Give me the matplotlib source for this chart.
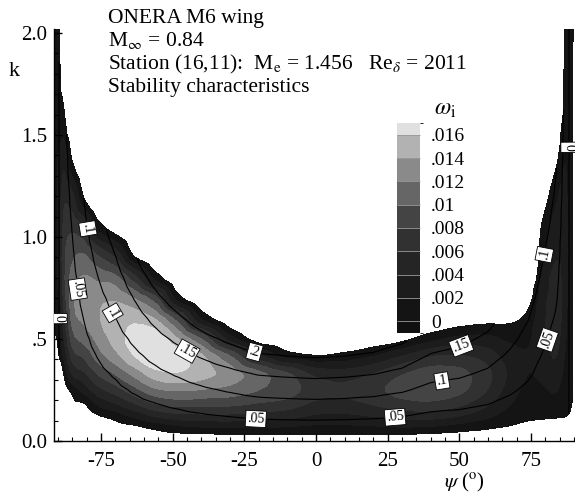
import numpy as np
import matplotlib
matplotlib.use("Agg")
import matplotlib.pyplot as plt
import matplotlib.tri as mtri
from matplotlib.colors import ListedColormap, BoundaryNorm
from matplotlib.ticker import MultipleLocator

plt.rcParams['font.family'] = ['Liberation Serif', 'DejaVu Serif']
plt.rcParams['mathtext.fontset'] = 'stix'

# grid: wave angle psi (deg) and wave number k
psi = [-93, -90, -88, -85, -81, -76, -70, -63, -56, -48, -40, -30, -20, -10,
       0, 10, 20, 30, 40, 50, 60, 68, 74, 79, 84, 87, 89, 92]
k = [0.0, 0.03, 0.07, 0.12, 0.18, 0.25, 0.33, 0.42, 0.5, 0.6, 0.7, 0.8,
     0.92, 1.05, 1.2, 1.4, 1.6, 1.8, 2.0, 2.1]

# growth rate omega_i (x 1e-3), one list per psi going up in k (negative = stable)
wi_by_psi = [
    [-4, -4, -4, -4, -4, -4, -4, -2.5, -0.6, -0.5, -0.4, -0.3, -0.2, -0.2, -0.2, -0.2, -0.2, -0.2, -0.2, -0.2],
    [-4, -4, -4, -4, -4, -4, -3, -0.3, 0.3, 1.3, 1.85, 2.3, 2.5, 2.4, 2.3, 2.0, 1.6, 1.1, 0.6, 0.35],
    [-4, -4, -4, -4, -3.6, -1.5, 0.2, 2.5, 3.9, 5.4, 6.6, 7.35, 7.35, 6.6, 5.4, 3.15, 0.3, -2, -4, -4],
    [-4, -4, -4, -2.7, -0.9, 0.8, 4.3, 7.0, 9.0, 10.8, 11.5, 10.8, 9.4, 7.4, 4.4, -0.6, -4, -4, -4, -4],
    [-4, -4, -3.3, -1.8, -0.2, 2.8, 5.7, 8.4, 10.6, 12.4, 13.0, 12.2, 9.9, 5.9, -0.2, -4, -4, -4, -4, -4],
    [-4, -3.3, -2.1, -0.3, 2.3, 5.3, 8.2, 11.1, 12.6, 13.8, 13.5, 11.5, 7.5, 1.1, -3.9, -4, -4, -4, -4, -4],
    [-3.2, -2.2, -1.0, 0.8, 3.8, 7.0, 10.2, 13.4, 14.8, 15.3, 13.6, 10.6, 5.0, -1.5, -4, -4, -4, -4, -4, -4],
    [-2.4, -1.5, -0.3, 2.4, 5.9, 9.4, 12.8, 16.2, 17.0, 15.4, 11.8, 6.5, -0.9, -4, -4, -4, -4, -4, -4, -4],
    [-1.8, -0.9, 0.7, 4.1, 7.9, 11.6, 15.2, 18.0, 17.4, 13.8, 8.6, 1.3, -3.2, -4, -4, -4, -4, -4, -4, -4],
    [-1.35, -0.45, 1.7, 5.1, 8.7, 12.2, 15.8, 17.0, 14.0, 8.8, 0.9, -2.7, -4, -4, -4, -4, -4, -4, -4, -4],
    [-1.2, -0.3, 2.1, 5.3, 8.5, 11.9, 14.8, 14.2, 10.0, 1.9, -2.4, -4, -4, -4, -4, -4, -4, -4, -4, -4],
    [-1.05, -0.15, 2.3, 5.3, 8.4, 11.2, 13.0, 9.8, 3.1, -2.1] + [-4] * 10,
    [-1.05, -0.15, 2.2, 4.9, 7.7, 10.0, 10.6, 4.3, -1.2] + [-4] * 11,
    [-1.05, -0.15, 2.0, 4.6, 7.0, 9.0, 8.2, 1.0, -2.1] + [-4] * 11,
    [-1.05, -0.15, 1.6, 3.6, 5.5, 6.9, 5.4, 0.0, -2.4] + [-4] * 11,
    [-1.05, -0.15, 1.6, 3.5, 5.3, 6.4, 4.9, 0.6, -2.1] + [-4] * 11,
    [-1.05, -0.15, 1.8, 4.0, 6.1, 7.4, 6.0, 1.8, -1.5] + [-4] * 11,
    [-1.05, -0.15, 2.1, 4.6, 7.1, 8.8, 7.8, 3.8, -0.6, -3.6] + [-4] * 10,
    [-1.2, -0.3, 1.9, 4.7, 7.4, 9.5, 9.0, 5.7, 1.3, -2.4] + [-4] * 10,
    [-1.5, -0.6, 1.2, 3.9, 6.4, 8.5, 8.6, 6.0, 2.6, -1.5] + [-4] * 10,
    [-1.8, -0.9, 0.4, 2.3, 4.2, 5.9, 6.4, 4.9, 2.6, -0.9, -3.9] + [-4] * 9,
    [-2.25, -1.35, -0.15, 0.95, 2.0, 2.9, 3.5, 2.8, 1.6, -0.6, -3.6] + [-4] * 9,
    [-2.7, -1.8, -0.6, 0.34, 0.9, 1.5, 2.0, 2.15, 1.7, 0.75, -1.2] + [-4] * 9,
    [-3, -2.1, -0.9, 0.25, 0.95, 1.7, 2.4, 3.0, 3.4, 3.4, 3.0, 2.5, 1.5, 0.3, -1.5, -4, -4, -4, -4, -4],
    [-3.3, -2.4, -1.2, 0.15, 1.1, 2.1, 3.1, 4.0, 4.6, 5.0, 4.8, 4.4, 3.8, 2.9, 1.7, -0.6, -4, -4, -4, -4],
    [-3.6, -2.7, -1.5, 0.0, 0.4, 0.9, 1.35, 1.8, 2.2, 2.6, 2.9, 3.0, 2.9, 2.8, 2.5, 1.8, 1.0, 0.5, 0.2, 0.0],
    [-2, -2, -2, -0.5, 0.1, 0.3, 0.35, 0.4, 0.4, 0.4, 0.4, 0.4, 0.4, 0.4, 0.4, 0.4, 0.35, 0.3, 0.3, 0.2],
    [-3, -3, -3, -3] + [-1.5] * 16,
]

# frequency omega_r per unit k, read along psi from the labelled lines
wr_per_k = [-0.03, -0.005, 0.025, 0.05, 0.085, 0.125, 0.165, 0.22, 0.27, 0.32,
            0.37, 0.42, 0.465, 0.48, 0.49, 0.48, 0.46, 0.42, 0.35, 0.325,
            0.28, 0.22, 0.17, 0.115, 0.075, 0.02, -0.01, -0.04]

fill_levels = [0, 2, 4, 6, 8, 10, 12, 14, 16, 40]
fill_colors = ['#141414', '#1c1c1c', '#252525', '#313131', '#444444',
               '#666666', '#8a8a8a', '#b2b2b2', '#e0e0e0']
bar_labels = ['0', '.002', '.004', '.006', '.008', '.01', '.012', '.014', '.016']

line_levels = [0, 0.05, 0.1, 0.15, 0.2]
line_names = {0: '0', 0.05: '.05', 0.1: '.1', 0.15: '.15', 0.2: '.2'}
label_spots = [(-89.4, 0.6), (-83, 0.745), (-80, 1.04), (-70.8, 0.63),
               (-45, 0.44), (-22, 0.41), (-21, 0.11), (27.6, 0.117),
               (43.9, 0.30), (50.9, 0.46), (81.7, 0.49), (79.3, 0.915),
               (87.8, 1.44)]

# build the field on a fine grid
PSI, K = np.meshgrid(psi, k)
WI = np.array(wi_by_psi).T
WR = np.outer(k, wr_per_k)

nk, npsi = len(k), len(psi)
idx = np.arange(nk * npsi).reshape(nk, npsi)
a = idx[:-1, :-1].ravel()
b = idx[:-1, 1:].ravel()
c = idx[1:, 1:].ravel()
d = idx[1:, :-1].ravel()
tris = np.concatenate([np.column_stack([a, b, c]), np.column_stack([a, c, d])])
sx = 45.0
tri = mtri.Triangulation(PSI.ravel() / sx, K.ravel(), tris)

xs = np.linspace(-93, 92, 520)
ys = np.linspace(0, 2.1, 420)
XF, YF = np.meshgrid(xs, ys)
wi_f = mtri.CubicTriInterpolator(tri, WI.ravel(), kind='geom')(XF / sx, YF)
wr_f = mtri.LinearTriInterpolator(tri, WR.ravel())(XF / sx, YF)
wr_f = np.ma.masked_where(np.ma.filled(wi_f, -1) < 0, wr_f)

fig = plt.figure(figsize=(5.75, 4.95), dpi=100)
ax = fig.add_axes([0.0939, 0.1091, 0.9061, 0.8323])

ax.contourf(XF, YF, wi_f, levels=fill_levels, colors=fill_colors)
cs = ax.contour(XF, YF, wr_f, levels=line_levels, colors='black', linewidths=0.8)
lbls = ax.clabel(cs, fmt=line_names, manual=label_spots, inline=True,
                 inline_spacing=2, fontsize=10)
for t in lbls:
    t.set_bbox(dict(boxstyle='square,pad=0.12', fc='white', ec='black', lw=0.6))

ax.set_xlim(-91.45, 90.4)
ax.set_ylim(0, 2.02)
for s in ['top', 'right']:
    ax.spines[s].set_visible(False)
ax.spines['left'].set_linewidth(1.0)
ax.spines['bottom'].set_linewidth(1.0)
ax.set_xticks([-75, -50, -25, 0, 25, 50, 75])
ax.set_xticklabels(['-75', '-50', '-25', '0', '25', '50', '75'])
ax.set_yticks([0, 0.5, 1.0, 1.5, 2.0])
ax.set_yticklabels(['0.0', '.5', '1.0', '1.5', '2.0'])
ax.xaxis.set_minor_locator(MultipleLocator(5))
ax.yaxis.set_minor_locator(MultipleLocator(0.1))
ax.tick_params(which='both', direction='in', top=False, right=False, labelsize=15)
ax.tick_params(which='major', length=6, width=1)
ax.tick_params(which='minor', length=3, width=0.8)
ax.tick_params(axis='x', pad=8)
ax.tick_params(axis='y', pad=5)

fig.text(14 / 575, 1 - 72 / 495, 'k', fontsize=16, ha='center', va='center')
fig.text(464 / 575, 1 - 482 / 495, r'$\psi$ ($^{\rm o}$)', fontsize=15,
         ha='center', va='center')

tx = 108 / 575
fig.text(tx, 1 - 23 / 495, 'ONERA M6 wing', fontsize=15.5, va='baseline')
fig.text(tx, 1 - 46 / 495, r'M$_\infty$ = 0.84', fontsize=15.5, va='baseline')
fig.text(tx, 1 - 69 / 495, r'Station (16,11):  M$_{\rm e}$ = 1.456   Re$_\delta$ = 2011',
         fontsize=15.5, va='baseline')
fig.text(tx, 1 - 92 / 495, 'Stability characteristics', fontsize=15.5, va='baseline')

# legend bar
cax = fig.add_axes([0.6904, 0.3273, 0.040, 0.4242])
bounds = [-1] + fill_levels[:-1] + [17]
cmap = ListedColormap(['#101010'] + fill_colors)
norm = BoundaryNorm(bounds, cmap.N)
sm = plt.cm.ScalarMappable(norm=norm, cmap=cmap)
cb = fig.colorbar(sm, cax=cax, boundaries=bounds, ticks=fill_levels[:-1],
                  spacing='proportional', drawedges=True)
cb.ax.set_yticklabels(bar_labels)
cb.outline.set_visible(False)
cb.dividers.set_color('#9a9a9a')
cb.dividers.set_linewidth(0.6)
cb.ax.tick_params(length=0, pad=8, labelsize=14)
fig.text(445 / 575, 1 - 110 / 495, r'$\omega_{\rm i}$', fontsize=17, ha='center', va='center')

fig.savefig('out.png', dpi=100)
